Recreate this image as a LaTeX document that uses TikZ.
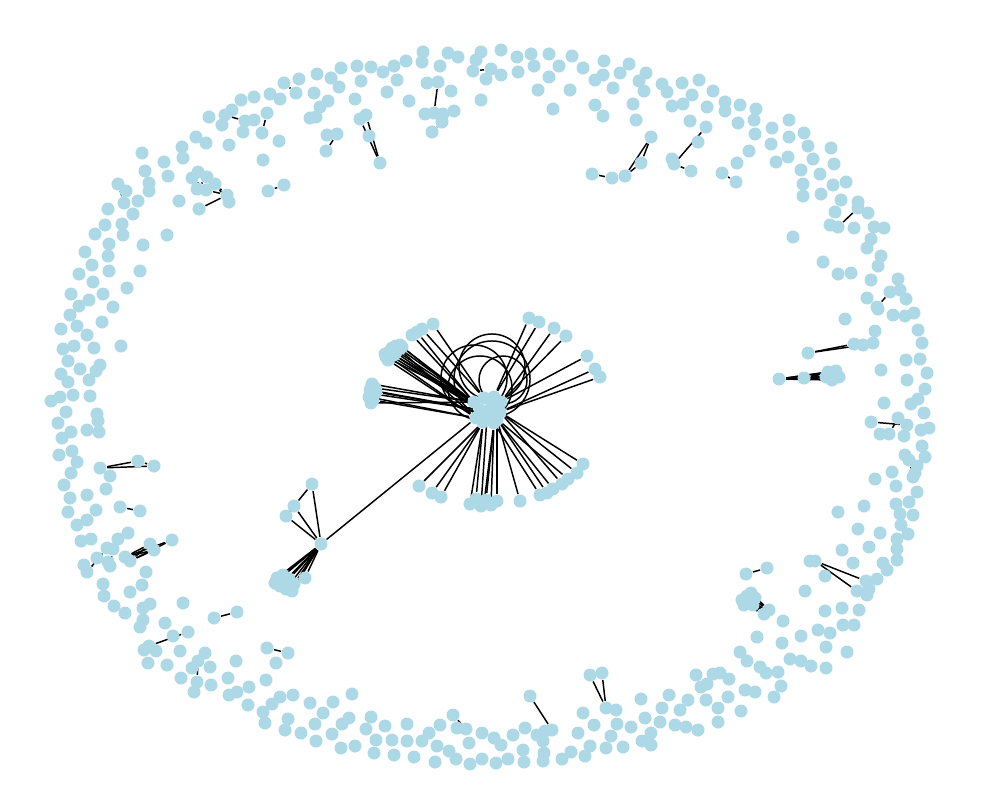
\documentclass[tikz,border=0pt]{standalone}
\usepackage{tikz}
\definecolor{bolita}{HTML}{ADD8E6}
\pgfdeclarelayer{fondo}
\pgfsetlayers{fondo,main}

\begin{document}
\begin{tikzpicture}[x=0.01cm,y=-0.01cm,
      dot/.style={circle,fill=bolita,inner sep=0pt,minimum size=0.13cm},
      lnk/.style={draw=black,line width=0.42pt}]
    \useasboundingbox (0,0) rectangle (1000,800);
    % nodos sueltos del anillo
    \foreach \x/\y [count=\i] in {
      423/52,448/53,458/57,481/52,501/50,476/60,501/75,486/79,481/100,440/66,422/62,406/61,394/66,383/72,371/67,357/66,341/68,331/78,317/74,299/79,270/94,280/99,314/93,339/87,361/81,397/80,387/92,355/99,328/101,310/118,409/101,427/83,451/91,425/114,443/114,454/111,279/141,263/160,327/135,
      254/97,241/100,232/110,222/125,209/117,254/120,243/132,229/145,196/137,206/143,182/147,183/158,164/162,168/176,142/153,145/171,149/183,149/191,126/191,138/201,133/214,108/209,105/225,122/224,123/235,95/234,109/244,85/252,108/256,92/265,109/271,79/274,140/271,143/245,167/235,179/201,
      93/282,127/288,71/294,89/300,103/294,79/306,113/307,70/315,102/322,61/329,77/326,87/335,63/349,74/346,94/348,121/346,68/361,80/369,100/365,96/371,61/374,68/382,89/380,51/401,60/397,73/395,90/396,66/412,97/414,98/421,58/423,71/432,87/430,99/432,62/438,59/455,72/451,77/462,110/476,71/473,64/485,106/489,70/498,87/495,68/512,96/510,87/520,77/525,
      81/541,91/539,118/539,128/533,97/558,84/565,108/562,146/572,142/585,130/592,103/584,104/596,114/606,125/613,143/608,150/604,143/620,140/627,165/623,183/603,173/636,144/650,156/651,180/651,148/663,167/665,181/678,192/668,205/653,210/667,194/692,211/685,228/678,236/661,229/695,237/692,249/687,248/705,263/712,265/723,272/704,266/680,276/663,
      280/697,293/695,288/719,285/730,301/733,310/703,323/713,333/702,352/694,315/724,316/741,332/734,342/724,349/718,341/748,355/746,371/717,366/729,385/726,376/740,374/753,392/740,394/755,407/724,407/741,414/757,422/741,429/733,437/746,440/725,449/751,435/762,457/728,469/743,456/759,470/764,482/733,482/759,494/738,501/745,496/763,
      508/759,524/762,543/761,513/735,525/728,523/750,544/753,537/735,543/741,545/731,562/759,571/752,585/756,590/746,578/733,583/713,594/725,606/748,611/736,617/724,616/710,623/747,631/727,641/699,645/718,651/733,642/741,651/745,660/722,662/708,669/695,675/725,680/710,686/727,688/700,698/730,696/675,720/673,729/679,701/687,706/700,728/697,718/708,718/722,740/652,747/661,745/690,741/711,
      858/529,880/533,901/525,908/534,897/539,897/549,897/560,883/563,887/570,869/547,842/550,853/563,877/579,869/589,867/595,810/561,825/576,805/591,783/621,825/611,842/608,859/610,843/625,854/625,818/630,830/633,801/636,757/637,782/643,826/647,847/652,790/659,801/661,811/666,826/668,760/667,766/673,778/672,781/686,755/692,774/697,
      867/298,900/290,906/299,878/309,893/315,905/316,914/313,845/319,918/330,875/331,922/343,873/343,906/360,920/359,881/370,927/373,907/380,925/389,918/399,911/404,884/403,924/413,880/434,904/436,921/430,929/428,922/446,905/455,925/457,917/466,915/473,892/472,875/479,896/486,917/492,909/502,896/504,864/506,838/512,900/514,913/515,
      740/105,756/109,738/123,754/120,772/128,789/120,755/134,789/137,804/133,771/144,749/151,808/146,831/148,776/162,788/157,813/159,834/164,737/163,801/170,820/174,803/184,833/185,846/182,803/196,821/194,841/200,858/202,868/213,835/212,830/225,854/228,874/227,884/228,871/239,867/248,881/256,878/266,793/237,823/262,838/274,851/273,871/280,898/279,
      517/57,531/54,549/54,572/56,518/72,534/66,549/77,559/66,583/68,538/90,570/90,553/109,604/61,595/80,603/75,613/88,620/73,629/64,639/81,646/73,644/91,595/105,603/116,633/104,636/120,662/84,667/92,682/83,699/80,692/95,672/106,683/104,713/91,707/107,725/102,725/111,690/121,698/142,672/159}
      \node[dot] (r\i) at (\x,\y) {};
    % nodos con aristas
    \foreach \n/\x/\y in {
      t1/284/83,t2/296/93,t3/267/113,t4/262/133,t5/360/119,t6/366/115,t7/369/136,t8/380/163,t9/337/134,t10/326/151,t11/268/191,t12/284/185,t13/438/82,t14/434/113,t15/442/122,t16/432/132,t17/473/71,t18/491/69,t19/316/117,t20/320/107,
      u1/592/174,u2/612/178,u3/625/176,u4/651/137,u5/641/163,u6/674/164,u7/706/127,u8/691/171,u9/722/173,u10/736/182,u11/838/227,u12/858/208,u13/877/307,u14/890/292,
      v1/808/353,v2/854/344,v3/863/345,v4/779/379,v5/804/378,v6/828/372,v7/836/371,v8/839/377,v9/832/380,v10/826/377,v11/834/376,v12/871/422,v13/898/418,v14/907/425,v15/889/434,v16/909/460,v17/913/477,
      w1/815/561,w2/866/581,w3/857/591,w4/746/574,w5/767/568,w6/742/600,w7/747/596,w8/751/593,w9/755/598,w10/749/603,w11/744/605,w12/753/605,w13/769/610,w14/764/614,w15/713/674,w16/707/684,
      x1/590/675,x2/602/673,x3/606/708,x4/530/696,x5/552/730,x6/453/715,x7/466/729,x8/267/648,x9/288/653,
      g0/321/544,g1/312/484,g2/294/506,g3/286/516,g4/305/578,g5/277/578,g6/283/575,g7/289/579,g8/294/584,g9/280/586,g10/286/589,g11/292/591,g12/275/583,g13/284/582,
      y1/87/572,y2/107/548,y3/113/549,y4/110/566,y5/125/557,y6/130/561,y7/150/544,y8/154/550,y9/172/540,y10/214/618,y11/237/612,y12/149/646,y13/188/632,y14/197/682,y15/198/661,
      z1/100/468,z2/138/461,z3/154/466,z4/120/507,z5/140/511,
      k1/118/184,k2/124/203,k3/225/115,k4/245/121,k5/192/178,k6/198/172,k7/207/177,k8/197/189,k9/206/190,k10/215/184,k11/227/195,k12/229/202,k13/199/209,
      p1/386/357,p2/389/352,p3/392/348,p4/396/346,p5/400/345,p6/391/356,p7/395/352,p8/399/349,p9/388/360,p10/402/347,p11/394/355,p12/385/354,p13/412/335,p14/417/332,p15/422/329,p16/433/324,
      q1/372/384,q2/375/388,q3/370/390,q4/374/394,q5/369/397,q6/373/400,q7/371/403,q8/376/392,
      s1/529/318,s2/539/322,s3/554/328,s4/566/336,s5/587/356,s6/595/369,s7/600/377,
      b1/419/486,b2/432/493,b3/441/497,b4/470/504,b5/476/499,b6/481/506,b7/486/500,b8/491/505,b9/497/501,b10/484/503,b11/520/501,
      c1/540/495,c2/547/493,c3/553/489,c4/562/484,c5/568/479,c6/577/473,c7/583/464,
      h1/474/402,h2/484/398,h3/494/397,h4/501/402,h5/480/410,h6/491/408,h7/500/412,h8/476/418,h9/487/417,h10/497/419,h11/483/422,h12/494/423}
      \node[dot] (\n) at (\x,\y) {};

    \begin{pgfonlayer}{fondo}
    \foreach \a/\b in {t1/t2,t3/t4,t5/t8,t6/t8,t9/t10,t11/t12,t13/t14,t15/t16,t17/t18,t19/t20,
        u1/u2,u3/u4,u3/u5,u5/u4,u6/u7,u6/u8,u9/u10,u11/u12,u13/u14,
        v1/v2,v1/v3,v12/v14,v15/v13,v16/v17,w1/w2,w1/w3,w4/w5,w15/w16,
        x1/x3,x2/x3,x1/x2,x4/x5,x6/x7,x8/x9,
        g1/g2,g1/g0,g2/g0,g3/g0,g3/g2,g4/g0,
        y1/y2,y3/y4,y5/y7,y5/y8,y5/y9,y6/y7,y6/y8,y6/y9,y10/y11,y12/y13,y14/y15,
        z1/z2,z1/z3,z2/z3,z4/z5,
        k1/k2,k3/k4,k13/k11,k9/k11,k10/k11,k10/k12,k5/k9,k8/k7,h8/g0}
      \draw[lnk] (\a) -- (\b);
    \foreach \a in {v6,v7,v8,v9,v10,v11} {\draw[lnk] (v4) -- (\a); \draw[lnk] (v5) -- (\a);}
    \foreach \a in {w6,w7,w8,w9,w10,w11,w12} {\draw[lnk] (\a) -- (w13); \draw[lnk] (\a) -- (w14);}
    \foreach \a in {g5,g6,g7,g8,g9,g10,g11,g12,g13} \draw[lnk] (g0) -- (\a);
    % abanico del centro
    \foreach \a/\b in {h1/p1,h1/p2,h1/p3,h1/p4,h5/p5,h5/p6,h5/p7,h8/p8,h8/p9,h1/p10,h5/p11,h8/p12,h1/p13,h5/p14,h2/p15,h2/p16,
        h1/q1,h1/q2,h5/q3,h5/q4,h8/q5,h8/q6,h1/q7,h5/q8,
        h3/s1,h3/s2,h4/s3,h4/s4,h4/s5,h7/s6,h7/s7,
        h11/b1,h11/b2,h11/b3,h11/b4,h11/b5,h9/b6,h12/b7,h12/b8,h10/b9,h12/b10,h10/b11,
        h12/c1,h10/c2,h10/c3,h7/c4,h10/c5,h7/c6,h7/c7}
      \draw[lnk] (\a) -- (\b);
    % lazos
    \draw[lnk] ([shift={(0,-24)}]h1.center) circle[radius=0.33cm];
    \draw[lnk] ([shift={(-2,-30)}]h3.center) circle[radius=0.33cm];
    \draw[lnk] ([shift={(5,-38)}]h9.center) circle[radius=0.38cm];
    \draw[lnk] ([shift={(2,-22)}]h4.center) circle[radius=0.24cm];
    \draw[lnk] ([shift={(4,-30)}]h8.center) circle[radius=0.32cm];
    \end{pgfonlayer}
\end{tikzpicture}
\end{document}
